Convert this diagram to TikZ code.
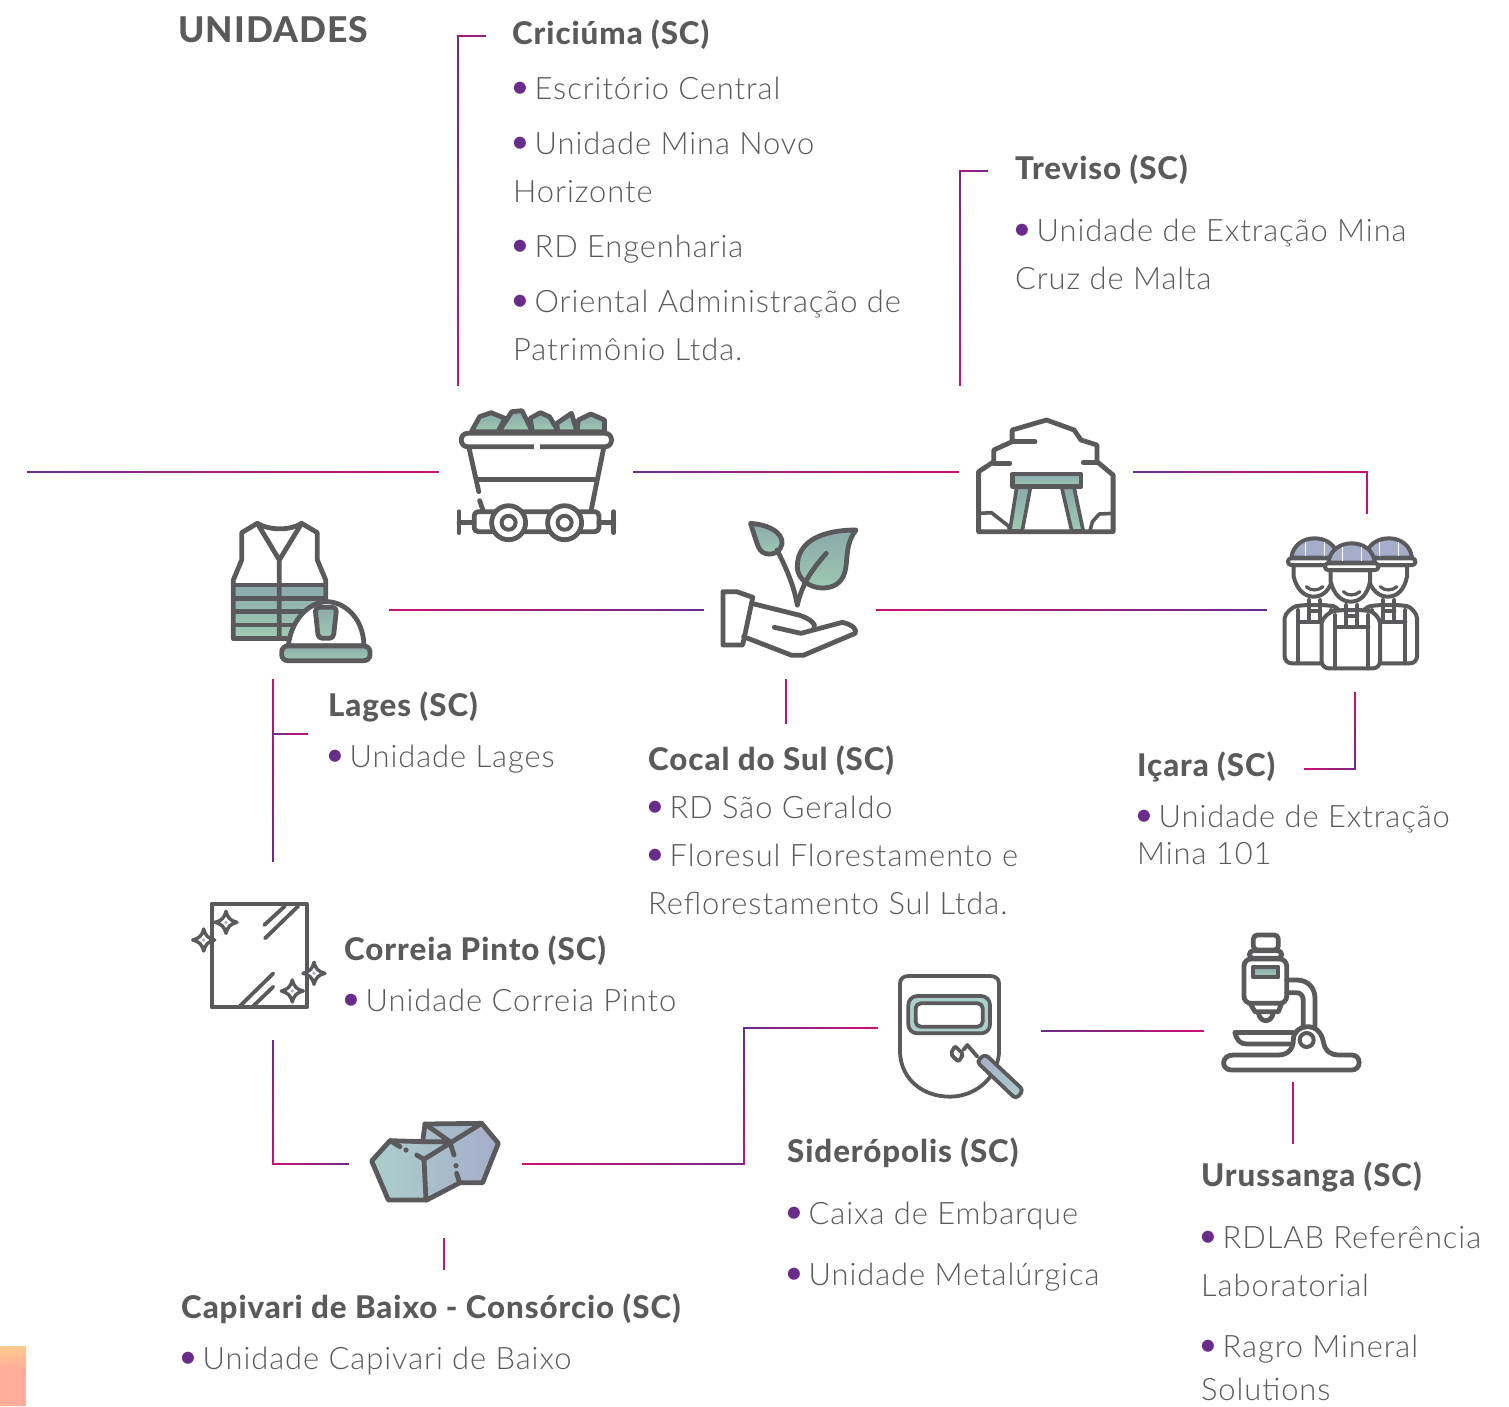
\documentclass[tikz,border=0pt]{standalone}
\usepackage{fontspec}
\setmainfont{Lato Light}[BoldFont=Lato Heavy,LetterSpace=3]
\usetikzlibrary{calc}
\definecolor{pp}{HTML}{6A2C8A}
\definecolor{mg}{HTML}{CC1070}
\definecolor{ic}{HTML}{5A5A5C}
\definecolor{tx}{HTML}{5A5A5C}
\definecolor{tlA}{HTML}{8AA9AB}
\definecolor{tlB}{HTML}{9FCBB2}
\definecolor{lvA}{HTML}{A6ADCA}
\definecolor{lvB}{HTML}{ABCFCB}
\definecolor{swA}{HTML}{FFC98E}
\definecolor{swB}{HTML}{FFAC9A}
\tikzset{
 conn/.style={line width=2.3pt,line cap=rect},
 icon/.style={draw=ic,line width=4.8pt,line join=round,line cap=round},
 thinicon/.style={draw=ic,line width=3.8pt,line join=round,line cap=round},
 tealfill/.style={top color=tlA,bottom color=tlB},
 lavfill/.style={left color=lvB,right color=lvA},
 zs/.style n args={2}{shift={(#1,#2)},x=.33333pt,y=-.33333pt},
 zw/.style n args={2}{shift={(#1,#2)},x=.459pt,y=-.33333pt},
 txt/.style={anchor=base west,inner sep=0pt,yshift=1pt,text=tx,font=\fontsize{30.9}{30.9}\selectfont},
 head/.style={anchor=base west,inner sep=0pt,yshift=-.7pt,text=tx,font=\fontsize{31.3}{31.3}\selectfont\bfseries},
}
\newcommand{\gln}[4]{%
 \foreach \i in {0,...,29}{%
  \pgfmathsetmacro\ta{\i/30}%
  \pgfmathsetmacro\tb{min(1,(\i+1)/30)}%
  \pgfmathsetmacro\mm{#3+(#4-#3)*(\i+.5)/30}%
  \draw[conn,draw=mg!\mm!pp] ($(#1)!\ta!(#2)$) -- ($(#1)!\tb!(#2)$);
 }}
\newcommand{\bul}{\makebox[21.5pt][l]{\hspace{-4.8pt}\textcolor{pp}{\raisebox{-1.8pt}{\fontsize{41}{41}\selectfont\char"2022}}}}
\newcommand{\spark}[2]{%
 \draw[thinicon,fill=white,line width=3.4pt] (#1+0,#2-11) .. controls (#1+2,#2-4) and (#1+4,#2-2) .. (#1+11,#2)
  .. controls (#1+4,#2+2) and (#1+2,#2+4) .. (#1,#2+11)
  .. controls (#1-2,#2+4) and (#1-4,#2+2) .. (#1-11,#2)
  .. controls (#1-4,#2-2) and (#1-2,#2-4) .. cycle;
 \fill[lvA] (#1,#2) circle[radius=1.8pt];}
\newcommand{\worker}[2]{%
 \begin{scope}[zs={1260+#1}{520+#2}]
  % body
  \draw[icon,fill=white,line width=4pt,rounded corners=7pt] (185,445) -- (185,330) .. controls (185,295) and (210,275) .. (240,270)
    -- (310,270) .. controls (340,275) and (360,295) .. (360,330) -- (360,445) -- cycle;
  \draw[icon,line width=4pt] (225,445) -- (225,285) (325,445) -- (325,285) (225,320) -- (325,320);
  \draw[icon,line width=4pt] (258,320) -- (258,255) (292,320) -- (292,255) (258,288) -- (292,288);
  % face
  \draw[icon,fill=white,line width=4pt] (212,150) -- (212,185) .. controls (222,225) and (245,245) .. (272,245)
    .. controls (300,245) and (322,225) .. (330,185) -- (330,150) -- cycle;
  \draw[icon,line width=3.2pt] (250,215) .. controls (262,228) and (285,228) .. (300,215);
  % helmet
  \draw[icon,fill=lvA,line width=4pt] (205,128) .. controls (210,90) and (240,70) .. (275,70)
    .. controls (310,70) and (340,90) .. (345,128) -- cycle;
  \draw[white,line width=1.6pt] (248,80) -- (248,122) (304,80) -- (304,122);
  \draw[icon,fill=white,rounded corners=3pt,line width=4pt] (195,130) rectangle (355,150);
 \end{scope}}
\begin{document}
\begin{tikzpicture}[x=1pt,y=-1pt]
\useasboundingbox (0,0) rectangle (1509,1406);
\fill[white] (0,0) rectangle (1509,1406);

% corner swatch
\shade[top color=swA,bottom color=swB] (0,1346) rectangle (26,1370);
\fill[swB] (0,1369.5) rectangle (26,1406);

% connector end points
\coordinate (a1) at (28,472); \coordinate (a2) at (438,472);
\coordinate (b1) at (634,472); \coordinate (b2) at (958,472);
\coordinate (c1) at (1134,472); \coordinate (c2) at (1367,472); \coordinate (c3) at (1367,513);
\coordinate (d1) at (390,610); \coordinate (d2) at (703,610);
\coordinate (e1) at (877,610); \coordinate (e2) at (1266,610);
\coordinate (f1) at (485,36); \coordinate (f2) at (458,36); \coordinate (f3) at (458,385);
\coordinate (g1) at (987,171); \coordinate (g2) at (960,171); \coordinate (g3) at (960,385);
\coordinate (h1) at (786,680); \coordinate (h2) at (786,723);
\coordinate (i1) at (1355,693); \coordinate (i2) at (1355,769); \coordinate (i3) at (1305,769);
\coordinate (j1) at (273,680); \coordinate (j2) at (273,861); \coordinate (j3) at (273,734); \coordinate (j4) at (307,734);
\coordinate (k1) at (273,1041); \coordinate (k2) at (273,1164); \coordinate (k3) at (348,1164);
\coordinate (l1) at (444,1239); \coordinate (l2) at (444,1269);
\coordinate (m1) at (523,1164); \coordinate (m2) at (744,1164); \coordinate (m3) at (744,1028); \coordinate (m4) at (877,1028);
\coordinate (n1) at (1042,1031); \coordinate (n2) at (1203,1031);
\coordinate (o1) at (1293,1083); \coordinate (o2) at (1293,1143);

\gln{a1}{a2}{0}{100}
\gln{b1}{b2}{0}{100}
\gln{c1}{c2}{0}{100}
\gln{c2}{c3}{100}{80}
\gln{d1}{d2}{100}{0}
\gln{e1}{e2}{100}{0}
\gln{f2}{f3}{5}{100}
\gln{f2}{f1}{80}{20}
\gln{g2}{g3}{5}{100}
\gln{g2}{g1}{80}{20}
\gln{h1}{h2}{95}{85}
\gln{i1}{i2}{100}{0}
\gln{i3}{i2}{100}{20}
\gln{j1}{j2}{100}{0}
\gln{j3}{j4}{0}{100}
\gln{k1}{k2}{0}{100}
\gln{k2}{k3}{100}{10}
\gln{l1}{l2}{90}{85}
\gln{m1}{m2}{100}{10}
\gln{m2}{m3}{100}{0}
\gln{m3}{m4}{0}{100}
\gln{n1}{n2}{0}{100}
\gln{o1}{o2}{95}{85}

% ---- mine cart
\begin{scope}[zw={420}{390}]
 \draw[icon,tealfill] (112,125) -- (130,80) -- (155,68) -- (185,85) -- (170,125) -- cycle;
 \draw[icon,tealfill] (172,125) -- (200,65) -- (222,62) -- (245,125) -- cycle;
 \draw[icon,tealfill] (245,125) -- (240,85) -- (262,68) -- (282,80) -- (302,125) -- cycle;
 \draw[icon,tealfill] (300,125) -- (298,100) -- (330,70) -- (342,125) -- cycle;
 \draw[icon,tealfill] (342,125) -- (345,90) -- (372,72) -- (402,90) -- (402,125) -- cycle;
 \fill[white] (92,128) rectangle (415,170);
 \draw[icon,rounded corners=6pt] (90,130) rectangle (417,170);
 \fill[white] (249,163) rectangle (261,176);
 \draw[icon] (107,175) -- (128,305) (130,332) -- (137,360);
 \draw[icon] (400,175) -- (373,360);
 \draw[icon] (125,268) -- (385,268);
 \draw[icon,fill=white,rounded corners=4pt] (118,365) rectangle (390,425);
 \draw[icon] (85,365) -- (85,428) (85,397) -- (118,397);
 \draw[icon] (422,365) -- (422,428) (390,397) -- (422,397);
\end{scope}
\draw[icon,fill=white] (508.6,522.7) circle[radius=17pt];
\draw[icon,fill=white,line width=4pt] (508.6,522.7) circle[radius=7pt];
\draw[icon,fill=white] (564.6,522.7) circle[radius=17pt];
\draw[icon,fill=white,line width=4pt] (564.6,522.7) circle[radius=7pt];

% ---- mine entrance
\begin{scope}[zw={420}{390}]
 \draw[icon] (1217,425) -- (1217,245) -- (1250,215) -- (1250,180) -- (1290,155) -- (1290,120) -- (1365,90)
   -- (1425,120) -- (1440,150) -- (1475,165) -- (1475,215) -- (1510,255) -- (1510,425) -- cycle;
 \draw[icon] (1290,155) -- (1340,155) (1250,220) -- (1285,220) (1445,218) -- (1475,218);
 \draw[icon,line width=3.6pt,tealfill] (1300,292) -- (1330,292) -- (1312,423) -- (1285,423) -- cycle;
 \draw[icon,line width=3.6pt,tealfill] (1398,292) -- (1425,292) -- (1445,423) -- (1420,423) -- cycle;
 \draw[icon,tealfill] (1290,252) rectangle (1440,290);
 \draw[icon,line width=3.6pt] (1220,370) -- (1245,368) -- (1282,408) -- (1285,422);
 \draw[icon,line width=3.6pt] (1510,370) -- (1480,372) -- (1465,395) -- (1460,420);
\end{scope}

% ---- plant in hand
\begin{scope}[zw={420}{390}]
 \draw[icon,tealfill] (720,400) .. controls (770,405) and (800,440) .. (785,475)
   .. controls (775,498) and (745,500) .. (737,470) .. controls (730,445) and (725,420) .. (720,400) -- cycle;
 \draw[icon] (778,480) .. controls (800,540) and (815,590) .. (822,645);
 \draw[icon,tealfill] (950,420) .. controls (880,420) and (822,450) .. (822,530)
   .. controls (822,580) and (870,610) .. (905,585) .. controls (945,550) and (915,480) .. (950,420) -- cycle;
 \draw[icon] (885,490) .. controls (860,530) and (835,570) .. (822,645);
 \draw[icon] (660,605) -- (690,605) -- (725,622) -- (703,765) -- (660,765) -- cycle;
 \draw[icon] (728,642) -- (825,675) .. controls (850,685) and (865,705) .. (858,715);
 \draw[icon] (772,712) -- (830,730) -- (920,697) .. controls (945,705) and (952,720) .. (948,730)
   -- (835,796) -- (810,796) -- (705,740);
\end{scope}

% ---- vest and helmet
\begin{scope}[zs={180}{500}]
 \draw[tealfill,draw=none] (160,250) rectangle (437,415);
 \draw[icon] (160,415) -- (160,240) -- (185,180) -- (185,98) -- (232,70)
   .. controls (270,92) and (330,92) .. (365,70) -- (412,98) -- (412,180) -- (437,240) -- (437,305);
 \draw[icon] (232,70) -- (298,180) -- (365,70) (298,180) -- (298,415);
 \draw[icon] (160,255) -- (437,255) (160,295) -- (437,295) (160,335) -- (437,335) (160,375) -- (437,375) (160,415) -- (320,415);
 \draw[icon,fill=white] (325,437) .. controls (335,350) and (395,305) .. (440,305)
   .. controls (490,305) and (550,350) .. (552,437) -- cycle;
 \draw[icon,tealfill,rounded corners=4pt] (405,322) -- (470,322) -- (460,415) -- (415,415) -- cycle;
 \draw[icon,tealfill,rounded corners=6pt] (305,438) rectangle (570,482);
\end{scope}

% ---- workers
\worker{-37}{-5}
\worker{37}{-5}
\worker{0}{0}

% ---- mirror
\begin{scope}[zs={170}{880}]
 \draw[icon,line width=4pt] (125,72) rectangle (410,382);
 \draw[icon,line width=3.8pt] (283,135) -- (345,78) (285,175) -- (385,78) (210,378) -- (310,280) (250,378) -- (310,320);
\end{scope}
\spark{226}{922.3}
\spark{203.7}{940}
\spark{314}{973.3}
\spark{292.3}{991}

% ---- rocks
\begin{scope}[zs={350}{1100}]
 \draw[icon,lavfill] (65,183) -- (120,122) -- (218,125) -- (225,72) -- (395,70) -- (445,130) -- (398,248) -- (330,248) -- (230,300) -- (115,300) -- cycle;
 \draw[icon] (218,125) -- (300,125) (225,72) -- (300,125) (395,70) -- (222,178) (222,178) -- (200,165) (222,178) -- (228,300);
 \draw[icon] (120,122) -- (150,140);
 \fill[ic] (168,150) circle[radius=2.6pt] (318,197) circle[radius=2.6pt];
 \draw[icon] (300,128) -- (312,165) (320,220) -- (328,246);
\end{scope}

% ---- welding mask
\begin{scope}[zs={880}{920}]
 \draw[thinicon] (60,190) .. controls (60,175) and (72,168) .. (85,168) -- (330,168) .. controls (345,168) and (357,175) .. (357,190)
   -- (357,400) .. controls (350,480) and (280,530) .. (210,530) .. controls (130,530) and (65,480) .. (60,400) -- cycle;
 \draw[draw=lvB,line width=5pt,rounded corners=8pt] (96,239) rectangle (319,329);
 \draw[thinicon,rounded corners=9pt] (85,228) rectangle (330,340);
 \draw[thinicon,rounded corners=5pt] (107,250) rectangle (308,320);
 \draw[thinicon,fill=white,rounded corners=2pt] (225,378) -- (250,403) -- (235,425) -- (212,402) -- cycle;
 \draw[thinicon] (250,390) -- (262,375) -- (292,410);
 \draw[thinicon,top color=lvA,bottom color=lvB,rounded corners=4pt] (315,402) -- (430,510) -- (408,537) -- (290,425) -- cycle;
\end{scope}

% ---- microscope
\begin{scope}[zs={880}{920}]
 \draw[icon,rounded corners=4pt] (1120,45) rectangle (1195,90);
 \draw[icon,rounded corners=4pt] (1108,92) rectangle (1205,115);
 \draw[icon,rounded corners=7pt] (1092,117) rectangle (1220,250);
 \draw[icon,tealfill,line width=4pt] (1120,140) rectangle (1195,172);
 \draw[icon] (1110,250) -- (1125,275) -- (1195,275) -- (1205,250);
 \draw[icon] (1135,278) .. controls (1140,310) and (1175,310) .. (1180,278);
 \draw[icon] (1220,180) -- (1250,180) .. controls (1285,180) and (1305,205) .. (1305,235) -- (1305,320);
 \draw[icon] (1220,218) -- (1250,218) .. controls (1262,218) and (1270,228) .. (1270,242) -- (1270,320);
 \draw[icon] (1060,405) -- (1195,405) .. controls (1225,405) and (1240,385) .. (1240,360)
   .. controls (1240,335) and (1260,320) .. (1282,320) .. controls (1310,320) and (1325,340) .. (1330,365)
   .. controls (1335,395) and (1355,405) .. (1375,405) -- (1415,405)
   .. controls (1445,405) and (1445,450) .. (1415,450) -- (1055,450) .. controls (1022,450) and (1022,405) .. (1060,405);
 \draw[icon,line width=4pt] (1280,360) circle[radius=7pt];
 \draw[icon] (1065,338) -- (1240,338);
 \draw[icon] (1065,338) .. controls (1070,360) and (1080,372) .. (1100,372) -- (1230,372);
\end{scope}

% ---- texts
\node[head,font=\fontsize{35.5}{35.5}\selectfont\bfseries] (tit) at (178,42) {UNIDADES};
\node[head] (cr0) at (512,44) {Criciúma (SC)};
\node[txt] (cr1) at (513,100) {\bul Escritório Central};
\node[txt] (cr2) at (513,155) {\bul Unidade Mina Novo};
\node[txt] (cr3) at (513,203) {Horizonte};
\node[txt] (cr4) at (513,258) {\bul RD Engenharia};
\node[txt] (cr5) at (513,313) {\bul Oriental Administração de};
\node[txt] (cr6) at (513,361) {Patrimônio Ltda.};
\node[head] (tr0) at (1015,179) {Treviso (SC)};
\node[txt] (tr1) at (1015,242) {\bul Unidade de Extração Mina};
\node[txt] (tr2) at (1015,290) {Cruz de Malta};
\node[head] (la0) at (328,716) {Lages (SC)};
\node[txt] (la1) at (328,768) {\bul Unidade Lages};
\node[head] (co0) at (648,770) {Cocal do Sul (SC)};
\node[txt] (co1) at (648,819) {\bul RD São Geraldo};
\node[txt] (co2) at (648,867) {\bul Floresul Florestamento e};
\node[txt] (co3) at (648,915) {Reflorestamento Sul Ltda.};
\node[head] (ic0) at (1137,776) {Içara (SC)};
\node[txt] (ic1) at (1137,828) {\bul Unidade de Extração};
\node[txt] (ic2) at (1137,865) {Mina 101};
\node[head] (cp0) at (344,960) {Correia Pinto (SC)};
\node[txt] (cp1) at (344,1012) {\bul Unidade Correia Pinto};
\node[head] (ca0) at (181,1318) {Capivari de Baixo - Consórcio (SC)};
\node[txt] (ca1) at (181,1370) {\bul Unidade Capivari de Baixo};
\node[head] (si0) at (787,1162) {Siderópolis (SC)};
\node[txt] (si1) at (787,1225) {\bul Caixa de Embarque};
\node[txt] (si2) at (787,1286) {\bul Unidade Metalúrgica};
\node[head] (ur0) at (1201,1186) {Urussanga (SC)};
\node[txt] (ur1) at (1201,1249) {\bul RDLAB Referência};
\node[txt] (ur2) at (1201,1297) {Laboratorial};
\node[txt] (ur3) at (1201,1358) {\bul Ragro Mineral};
\node[txt] (ur4) at (1201,1401) {Solutions};
\end{tikzpicture}
\end{document}
